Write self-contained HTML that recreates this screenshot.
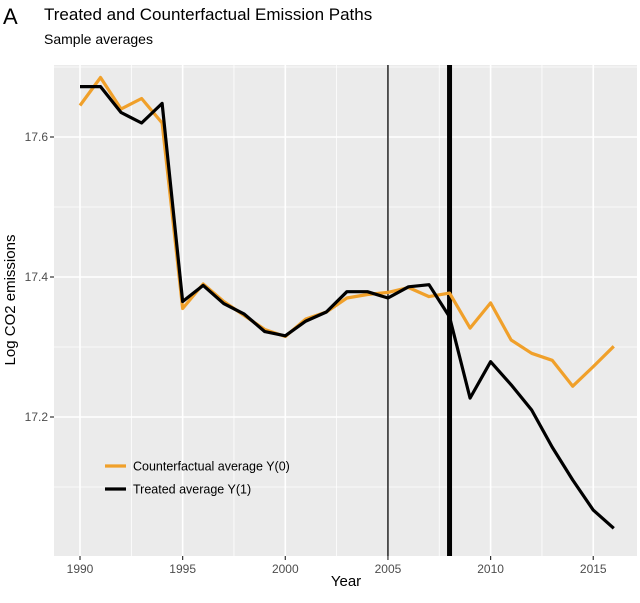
<!DOCTYPE html>
<html><head><meta charset="utf-8"><style>
body{margin:0;background:#fff;}
svg{display:block;font-family:"Liberation Sans",sans-serif;}
</style></head><body>
<svg id="c" width="640" height="603"></svg>
<script>
const years=[1990,1991,1992,1993,1994,1995,1996,1997,1998,1999,2000,2001,2002,2003,2004,2005,2006,2007,2008,2009,2010,2011,2012,2013,2014,2015,2016];
const counterfactual=[17.645,17.685,17.64,17.655,17.62,17.355,17.39,17.365,17.345,17.325,17.315,17.34,17.35,17.37,17.375,17.378,17.385,17.372,17.377,17.327,17.363,17.31,17.291,17.281,17.244,17.272,17.301];
const treated=[17.672,17.672,17.635,17.62,17.648,17.365,17.388,17.362,17.347,17.322,17.316,17.337,17.35,17.379,17.379,17.37,17.386,17.389,17.343,17.227,17.279,17.246,17.21,17.157,17.11,17.067,17.041];
const xTicks=[1990,1995,2000,2005,2010,2015];
const yTicks=[17.2,17.4,17.6];
const vLines=[2005,2008];
const NS="http://www.w3.org/2000/svg";
const svg=document.getElementById('c');
const L=54,R=637,T=65,B=556;
const x=v=>80+(v-1990)*20.53;
const y=v=>277-(v-17.4)*700;
function mk(t,a,p){const e=document.createElementNS(NS,t);for(const k in a)e.setAttribute(k,a[k]);(p||svg).appendChild(e);return e;}
const panel=mk('rect',{x:L,y:T,width:R-L,height:B-T,fill:'#ebebeb'});


// minor grid
for(let v=17.1;v<=17.71;v+=0.2){const g=mk('line',{x1:L,x2:R,y1:y(v),y2:y(v),stroke:'#fff','stroke-width':0.8});

}
for(let v=1992.5;v<=2017;v+=5){const g=mk('line',{x1:x(v),x2:x(v),y1:T,y2:B,stroke:'#fff','stroke-width':0.8});

}
yTicks.forEach(v=>{const g=mk('line',{x1:L,x2:R,y1:y(v),y2:y(v),stroke:'#fff','stroke-width':1.6});


const tk=mk('line',{x1:L-4,x2:L,y1:y(v),y2:y(v),stroke:'#333','stroke-width':1.2});


const t=mk('text',{x:L-6,y:y(v)+4,'text-anchor':'end','font-size':12,fill:'#4d4d4d'});t.textContent=v.toFixed(1);

});
xTicks.forEach(v=>{const g=mk('line',{x1:x(v),x2:x(v),y1:T,y2:B,stroke:'#fff','stroke-width':1.6});


const tk=mk('line',{x1:x(v),x2:x(v),y1:B,y2:B+4,stroke:'#333','stroke-width':1.2});


const t=mk('text',{x:x(v),y:B+17,'text-anchor':'middle','font-size':12,fill:'#4d4d4d'});t.textContent=v;

});
vLines.forEach((v,i)=>{const l=mk('line',{x1:x(v),x2:x(v),y1:T,y2:B,stroke:'#000','stroke-width':i?5:1.3});

});
function path(vals,col,name){const d=vals.map((v,i)=>(i?'L':'M')+x(years[i])+','+y(v)).join(' ');
const p=mk('path',{d:d,fill:'none',stroke:col,'stroke-width':3.2,'stroke-linejoin':'round'});

}
path(counterfactual,'#f0a02a','counterfactual-line');
path(treated,'#000','treated-line');
// legend
[['#f0a02a','Counterfactual average Y(0)',466],['#000','Treated average Y(1)',489]].forEach((e,i)=>{
const l=mk('line',{x1:105,x2:126,y1:e[2],y2:e[2],stroke:e[0],'stroke-width':3.2});


const t=mk('text',{x:133,y:e[2]+4.5,'font-size':12.5,fill:'#000'});t.textContent=e[1];

});
const texts=[['A',3,24,22,'start','panel-label'],['Treated and Counterfactual Emission Paths',44,20,17,'start','chart-title'],['Sample averages',44,44,14,'start','chart-subtitle'],['Year',346,586,15,'middle','x-axis-title']];
texts.forEach(a=>{const t=mk('text',{x:a[1],y:a[2],'font-size':a[3],'text-anchor':a[4],fill:'#000'});t.textContent=a[0];

});
const yt=mk('text',{x:0,y:0,'font-size':15,'text-anchor':'middle',transform:'translate(15,300) rotate(-90)',fill:'#000'});yt.textContent='Log CO2 emissions';


</script>
</body></html>
